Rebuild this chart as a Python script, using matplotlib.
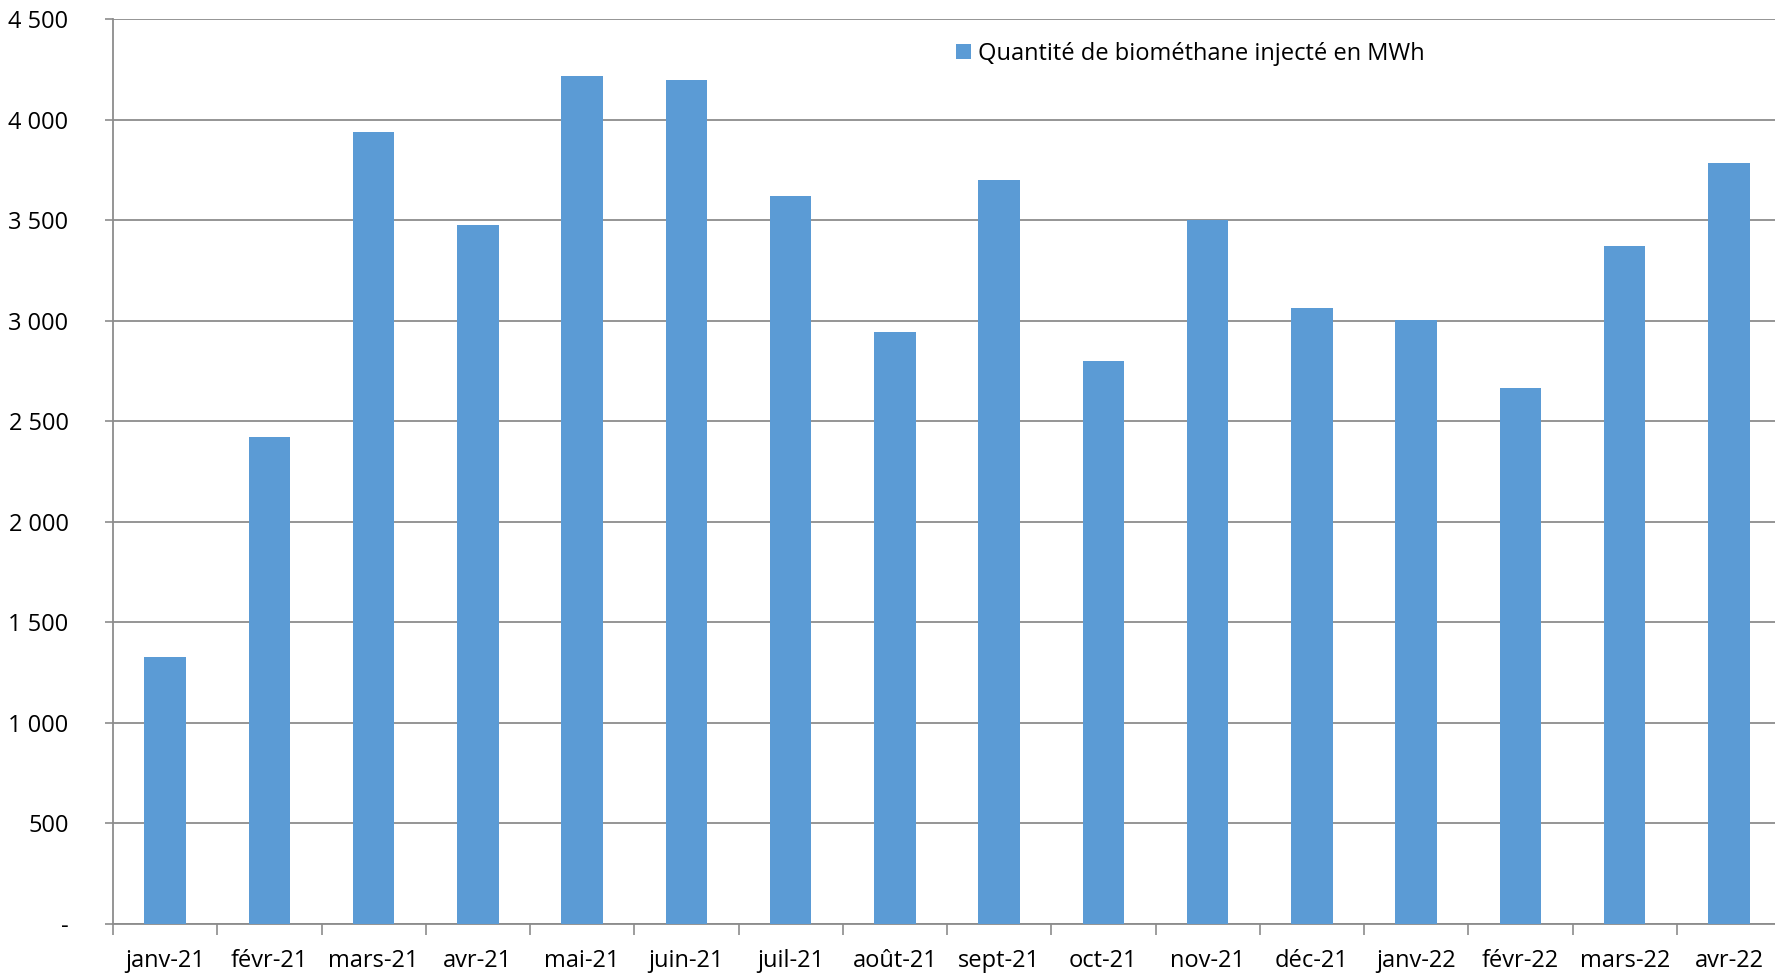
import matplotlib
matplotlib.use("Agg")
import matplotlib.pyplot as plt
from matplotlib.ticker import FixedLocator, FuncFormatter, MultipleLocator
import numpy as np

months = ["janv-21", "févr-21", "mars-21", "avr-21", "mai-21", "juin-21",
          "juil-21", "août-21", "sept-21", "oct-21", "nov-21", "déc-21",
          "janv-22", "févr-22", "mars-22", "avr-22"]
values = [1330, 2420, 3940, 3475, 4215, 4195, 3620, 2945, 3700, 2800,
          3500, 3065, 3005, 2665, 3370, 3785]
series_label = "Quantité de biométhane injecté en MWh"

plt.rcParams['font.family'] = ['Open Sans', 'DejaVu Sans']

W, H = 1775, 973
fig = plt.figure(figsize=(W / 100, H / 100), dpi=100)
ax_left = 113 / W
ax_right = 1781 / W
ax_bottom = (H - 924) / H
ax_top = (H - 19) / H
ax = fig.add_axes([ax_left, ax_bottom, ax_right - ax_left, ax_top - ax_bottom])

x = np.arange(len(months))
ax.bar(x, values, width=0.40, color="#5B9BD5", label=series_label, zorder=3)

ax.set_xlim(-0.5, len(months) - 0.5)
ax.set_ylim(0, 4500)

grid_color = "#8C8C8C"
ax.yaxis.set_major_locator(MultipleLocator(500))
ax.yaxis.grid(True, color=grid_color, linewidth=1.3, zorder=0)
ax.set_axisbelow(True)

def fmt(v, pos):
    if v == 0:
        return "-"
    return f"{int(v):,}".replace(",", " ")
ax.yaxis.set_major_formatter(FuncFormatter(fmt))

ax.set_xticks(x)
ax.set_xticklabels(months)
ax.tick_params(axis="x", which="major", length=0, pad=18, labelsize=17)
ax.xaxis.set_minor_locator(FixedLocator(np.arange(-0.5, len(months), 1.0)))
ax.tick_params(axis="x", which="minor", length=8, width=1.2, color=grid_color)
ax.tick_params(axis="y", length=6, width=1.2, color=grid_color, pad=26, labelsize=17)

for s in ["top", "right"]:
    ax.spines[s].set_visible(False)
for s in ["left", "bottom"]:
    ax.spines[s].set_color(grid_color)
    ax.spines[s].set_linewidth(1.3)

leg = ax.legend(loc="upper left", bbox_to_anchor=((947 - 113) / (1781 - 113), 0.985),
                frameon=False, fontsize=17, handlelength=0.6, handleheight=0.6,
                handletextpad=0.3, borderaxespad=0)

fig.savefig("out.png", dpi=100)
